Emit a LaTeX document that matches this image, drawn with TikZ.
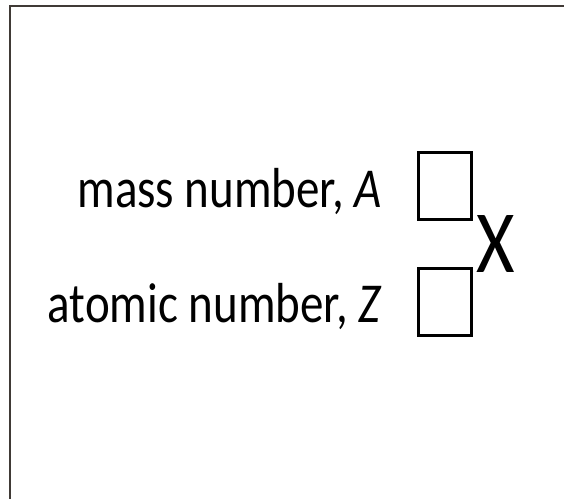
\documentclass[tikz,border=0pt]{standalone}
\usepackage{graphicx}
\usepackage{fontspec}
\setmainfont{Carlito}
\definecolor{frame}{HTML}{403A36}
\newcommand{\tallish}[2]{\scalebox{1}[#1]{#2}}
\begin{document}
\begin{tikzpicture}[x=1pt,y=-1pt,
  lbl/.style={font=\fontsize{47}{56}\selectfont, anchor=base east, inner sep=0pt},
  slot/.style={draw=black, line width=3pt, minimum width=53pt, minimum height=67pt, inner sep=0pt},
  elem/.style={font=\fontsize{74}{90}\selectfont, anchor=base west, inner sep=0pt},
  edge/.style={draw=frame, line width=2pt}]
\useasboundingbox (0,0) rectangle (564,499);
\coordinate (tl) at (10,5.5);
\coordinate (tr) at (564,5.5);
\coordinate (bl) at (10,499);
\draw[edge] (tr) -- (tl) -- (bl);
\node[lbl] (mass) at (382,207) {\tallish{1.2}{mass number, \textit{A}}};
\node[lbl] (atomic) at (382,322) {\tallish{1.2}{atomic number, \textit{Z}}};
\node[slot] (boxA) at (445,186) {};
\node[slot] (boxZ) at (444.5,302) {};
\node[elem] (sym) at (476,272) {\tallish{1.2}{X}};
\end{tikzpicture}
\end{document}
